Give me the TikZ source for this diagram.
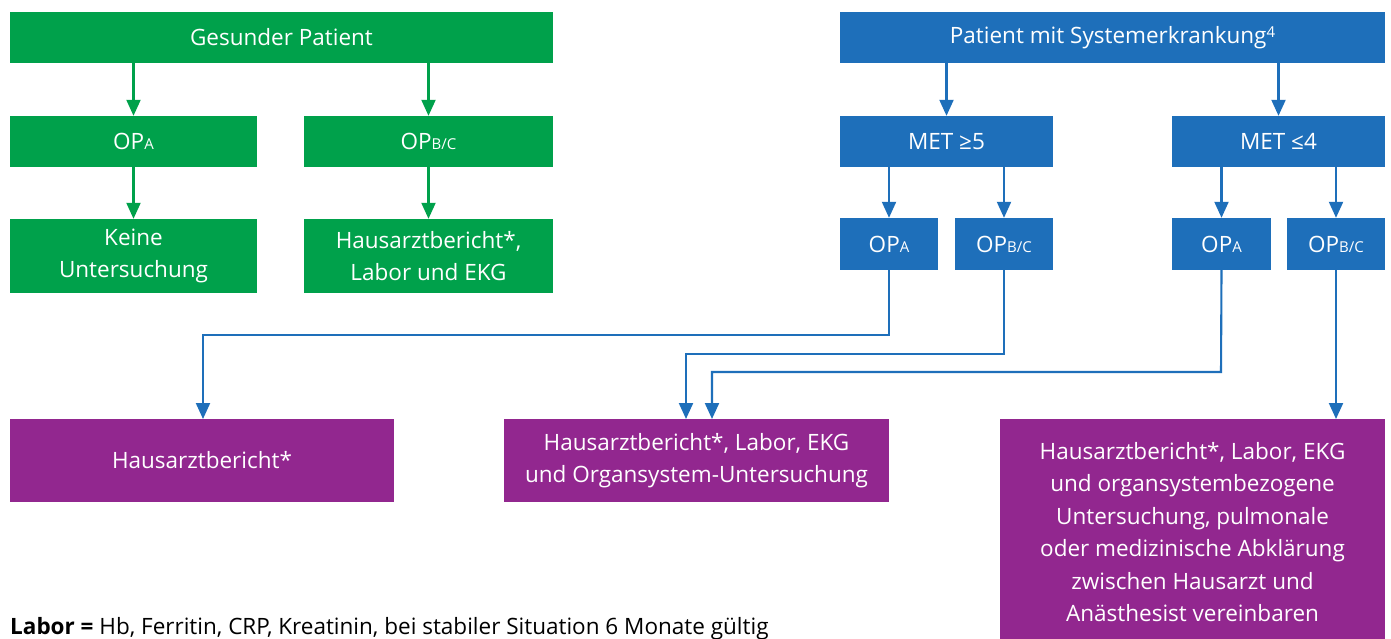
\documentclass[tikz,border=0pt]{standalone}
\usepackage{fontspec}
\setmainfont{Open Sans}
\usetikzlibrary{arrows.meta}
\definecolor{gr}{HTML}{00A14B}
\definecolor{bl}{HTML}{1E6FBA}
\definecolor{pu}{HTML}{92278F}
\begin{document}
\begin{tikzpicture}[x=1pt,y=-1pt,
  box/.style={draw=none,text=white,inner sep=0pt,align=center,font=\fontsize{22.5}{32.5}\selectfont},
  arr/.style={line width=2.1pt},
  garr/.style={arr,draw=gr,-{Triangle[width=14pt,length=16pt,fill=gr]}},
  barr/.style={arr,draw=bl,-{Triangle[width=14pt,length=16pt,fill=bl]}}]
\useasboundingbox (0,0) rectangle (1391,639);
\fill[white] (0,0) rectangle (1391,639);
\newcommand{\sbx}[1]{{\fontsize{15}{15}\selectfont #1}}
% green
\node[box,fill=gr,minimum width=543pt,minimum height=51pt] (gp) at (281.5,37.5) {Gesunder Patient};
\node[box,fill=gr,minimum width=247pt,minimum height=51pt] (ga) at (133.5,141.5) {OP\sbx{A}};
\node[box,fill=gr,minimum width=249pt,minimum height=51pt] (gb) at (428.5,141.5) {OP\sbx{B/C}};
\node[box,fill=gr,minimum width=247pt,minimum height=74pt] (gk) at (133.5,256) {Keine\\Untersuchung};
\node[box,fill=gr,minimum width=249pt,minimum height=74pt] (gh) at (428.5,256) {Hausarztbericht*,\\Labor und EKG};
\draw[garr] (gp.south -| ga) -- (ga);
\draw[garr] (gp.south -| gb) -- (gb);
\draw[garr] (ga) -- (gk);
\draw[garr] (gb) -- (gh);
% blue
\node[box,fill=bl,minimum width=545pt,minimum height=51pt] (bp) at (1112.5,37.5) {Patient mit Systemerkrankung\raisebox{6pt}{\sbx{4}}};
\node[box,fill=bl,minimum width=213pt,minimum height=51pt] (m5) at (946.5,141.5) {MET ≥5};
\node[box,fill=bl,minimum width=213pt,minimum height=51pt] (m4) at (1278.5,141.5) {MET ≤4};
\node[box,fill=bl,minimum width=98pt,minimum height=52pt] (a1) at (889,244) {OP\sbx{A}};
\node[box,fill=bl,minimum width=98pt,minimum height=52pt] (b1) at (1004,244) {OP\sbx{B/C}};
\node[box,fill=bl,minimum width=99pt,minimum height=52pt] (a2) at (1221.5,244) {OP\sbx{A}};
\node[box,fill=bl,minimum width=98pt,minimum height=52pt] (b2) at (1336,244) {OP\sbx{B/C}};
\draw[barr] (bp.south -| m5) -- (m5);
\draw[barr] (bp.south -| m4) -- (m4);
\draw[barr] (m5.south -| a1) -- (a1);
\draw[barr] (m5.south -| b1) -- (b1);
\draw[barr] (m4.south -| a2) -- (a2);
\draw[barr] (m4.south -| b2) -- (b2);
% purple
\node[box,fill=pu,minimum width=384pt,minimum height=83pt] (p1) at (202,460.5) {Hausarztbericht*};
\node[box,fill=pu,minimum width=385pt,minimum height=83pt] (p2) at (696.5,460.5) {Hausarztbericht*, Labor, EKG\\und Organsystem-Untersuchung};
\fill[pu] (1000,419) rectangle (1385,650);
\node[box] (p3) at (1192.5,532) {Hausarztbericht*, Labor, EKG\\und organsystembezogene\\Untersuchung, pulmonale\\oder medizinische Abklärung\\zwischen Hausarzt und\\Anästhesist vereinbaren};
\coordinate (p3top) at (1192.5,419);
% connectors
\draw[barr] (a1.south) -- (889,335) -- (203,335) -- (203,419);
\draw[barr] (b1.south) -- (1004,354) -- (686,354) -- (686,419);
\draw[barr] (a2.south) -- (1221,372) -- (712,372) -- (712,419);
\draw[barr] (b2.south) -- (b2.south |- p3top);
% footnote
\node[anchor=base west,inner sep=0pt,font=\fontsize{22.5}{26}\selectfont] (lab) at (10,634) {\textbf{Labor =} Hb, Ferritin, CRP, Kreatinin, bei stabiler Situation 6 Monate gültig};
\end{tikzpicture}
\end{document}
